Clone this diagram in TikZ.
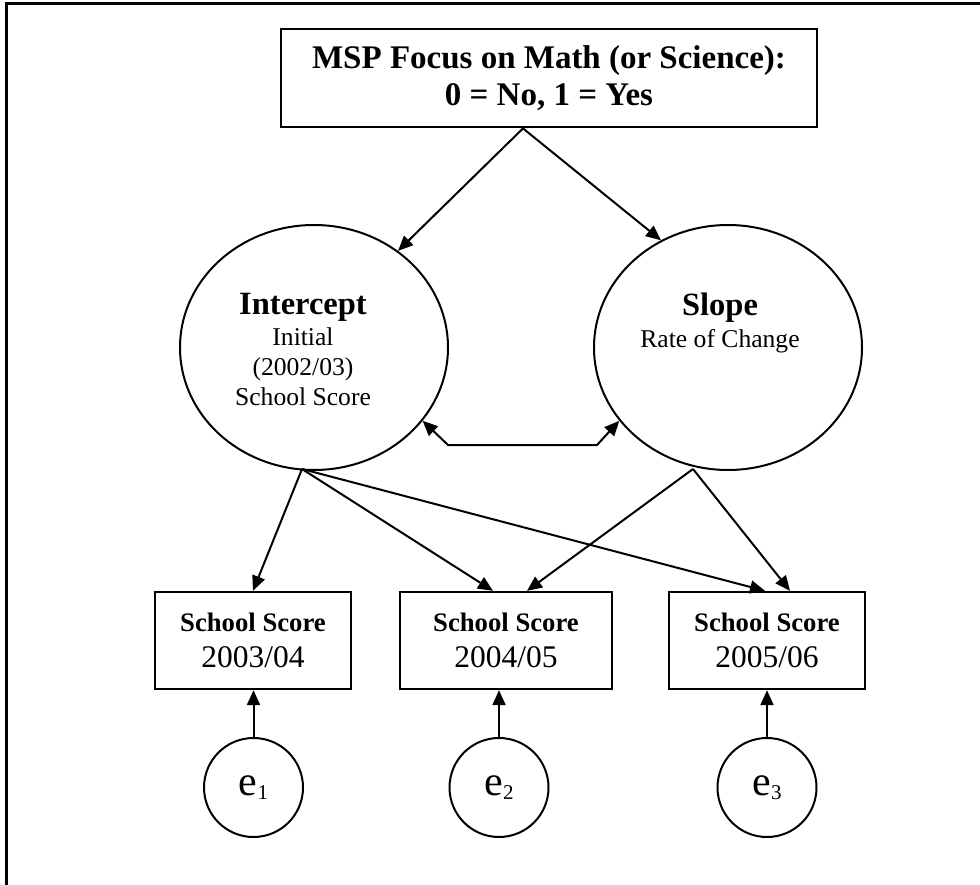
\documentclass[tikz,border=0pt]{standalone}
\usepackage{fontspec}
\setmainfont{Liberation Serif}
\usetikzlibrary{arrows.meta,shapes.geometric}

\tikzset{
    conn/.style={line width=2pt, -{Triangle[length=15pt,width=13pt]}},
    covar/.style={line width=2pt, {Triangle[length=15pt,width=13pt]}-{Triangle[length=15pt,width=13pt]}},
    latent/.style={ellipse, draw, line width=2pt, inner sep=0pt,
        minimum width=268pt, minimum height=245pt},
    latlabel/.style={anchor=north, align=center, inner sep=0pt,
        font=\fontsize{25.6}{30}\selectfont},
    scorebox/.style={rectangle, draw, line width=2.3pt, inner sep=0pt,
        minimum height=97pt, align=center, font=\fontsize{31.5}{35.5}\selectfont},
    errcirc/.style={circle, draw, line width=2pt, inner sep=0pt,
        minimum size=99pt, font=\fontsize{42}{42}\selectfont}
}

\newcommand{\headword}[1]{{\fontsize{32.5}{32}\selectfont\bfseries #1}}

\begin{document}
\begin{tikzpicture}[x=1pt, y=-1pt]

        \useasboundingbox (0,0) rectangle (980,885);

        %----- FRAME (TOP AND LEFT EDGES) -----
        \draw[line width=3pt] (6.5,885) -- (6.5,3.5) -- (980,3.5);

        %----- PREDICTOR BOX -----
        \node[draw, line width=2.8pt, inner sep=0pt,
              minimum width=536pt, minimum height=98pt, align=center,
              font=\fontsize{33}{37}\selectfont\bfseries]
            (focus) at (549,78) {MSP Focus on Math (or Science):\\0 = No, 1 = Yes};

        %----- GROWTH FACTORS -----
        \node[latent] (icpt) at (314,347.5) {};
        \node[latent] (slope) at (728,347.5) {};

        \node[latlabel] (icpttxt) at (303,293)
            {\headword{Intercept}\\[1.5pt]Initial\\(2002/03)\\School Score};
        \node[latlabel] (slopetxt) at (720,293)
            {\headword{Slope}\\[1.5pt]Rate of Change};

        %----- SCORES AND ERRORS -----
        % box x / box width / error x / school year
        \foreach \i/\bx/\bw/\ex/\yr in {1/253/196/253.5/{2003/04},
                                        2/506/212/499/{2004/05},
                                        3/767/196/767/{2005/06}} {
            \node[scorebox, minimum width=\bw pt] (box\i) at (\bx,640.5)
                {{\fontsize{26.7}{30}\selectfont\bfseries School Score}\\\yr};
            \node[errcirc] (e\i) at (\ex,787.5)
                {e\raisebox{-4pt}{\fontsize{21}{21}\selectfont \i}};
            \draw[conn] (e\i) -- (e\i |- box\i.south);
        }

        %----- PATHS -----
        \coordinate (fork) at ([xshift=-26pt]focus.south);
        \draw[conn] (fork) -- (icpt.49);
        \draw[conn] (fork) -- (slope.122);

        \coordinate (ifoot) at (302,469);
        \coordinate (sfoot) at (693,469);
        \draw[conn] (ifoot) -- (box1.north);
        \draw[conn] (ifoot) -- ([xshift=-13pt]box2.north);
        \draw[conn] (ifoot) -- ([xshift=-2pt]box3.north);
        \draw[conn] (sfoot) -- ([xshift=21pt]box2.north);
        \draw[conn] (sfoot) -- ([xshift=23pt]box3.north);

        %----- COVARIANCE -----
        \coordinate (covl) at (448,445);
        \coordinate (covr) at (597,445);
        \draw[covar] (icpt.-34) -- (covl) -- (covr) -- (slope.-146);

    \end{tikzpicture}
\end{document}
